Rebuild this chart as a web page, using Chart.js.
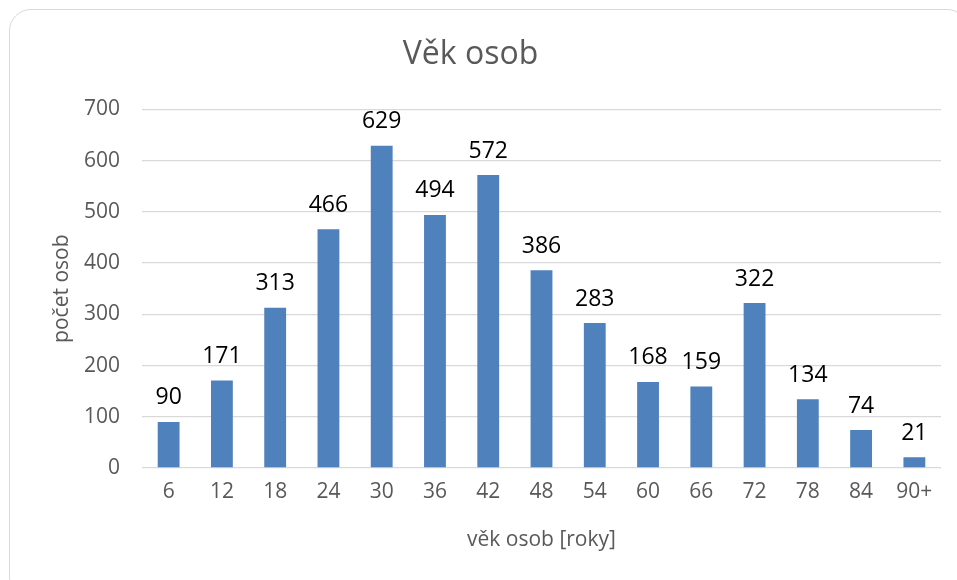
<!DOCTYPE html>
<html>
<head>
<meta charset="utf-8">
<script src="https://cdn.jsdelivr.net/npm/chart.js@4/dist/chart.umd.min.js"></script>
<style>
  html, body { margin: 0; padding: 0; background: #fff; overflow: hidden; }
  #wrap { position: relative; width: 957px; height: 580px; }
  #frame { position: absolute; left: 9px; top: 9px; width: 960px; height: 590px;
           border: 1.5px solid #d9d9d9; border-radius: 22px; box-sizing: border-box; }
  canvas { position: absolute; left: 0; top: 0; }
</style>
</head>
<body>
<div id="wrap">
  <div id="frame"></div>
  <canvas id="c" width="957" height="580"></canvas>
</div>
<script>
const categories = ["6", "12", "18", "24", "30", "36", "42", "48", "54", "60", "66", "72", "78", "84", "90+"];
const counts = [90, 171, 313, 466, 629, 494, 572, 386, 283, 168, 159, 322, 134, 74, 21];
const yTicks = [0, 100, 200, 300, 400, 500, 600, 700];
const chartTitle = "Věk osob";
const xTitle = "věk osob [roky]";
const yTitle = "počet osob";

const FONT = "'Open Sans', sans-serif";

const labelPlugin = {
  id: 'barLabels',
  afterDatasetsDraw(chart) {
    const ctx = chart.ctx;
    const meta = chart.getDatasetMeta(0);
    ctx.save();
    ctx.font = "23px " + FONT;
    ctx.fillStyle = "#000000";
    ctx.textAlign = "center";
    ctx.textBaseline = "middle";
    meta.data.forEach((bar, i) => {
      ctx.fillText(String(counts[i]), bar.x, bar.y - 24);
    });
    ctx.restore();
  }
};

new Chart(document.getElementById('c'), {
  type: 'bar',
  data: {
    labels: categories,
    datasets: [{
      data: counts,
      backgroundColor: '#4F81BD',
      borderWidth: 0,
      categoryPercentage: 1.0,
      barPercentage: 0.41
    }]
  },
  options: {
    responsive: false,
    animation: false,
    devicePixelRatio: 1,
    layout: { padding: { left: 0, right: 16, top: 0, bottom: 0 } },
    plugins: {
      legend: { display: false },
      tooltip: { enabled: false },
      title: {
        display: true,
        text: chartTitle,
        color: '#595959',
        font: { family: FONT, size: 32, weight: 'normal', lineHeight: 1.2 },
        padding: { top: 36, bottom: 35 }
      }
    },
    scales: {
      x: {
        grid: { display: false, drawTicks: false },
        border: { display: false },
        ticks: { color: '#595959', font: { family: FONT, size: 21 }, padding: 11, maxRotation: 0, autoSkip: false },
        title: { display: true, text: xTitle, color: '#595959',
                 font: { family: FONT, size: 21, lineHeight: 1.2 }, padding: { top: 0, bottom: 27 } },
        afterFit(scale) { scale.height = 112; }
      },
      y: {
        min: 0,
        max: 700,
        afterBuildTicks(scale) { scale.ticks = yTicks.map(v => ({ value: v })); },
        grid: { color: '#d9d9d9', lineWidth: 1.3, drawTicks: false },
        border: { display: false },
        ticks: { color: '#595959', font: { family: FONT, size: 21 }, padding: 22 },
        title: { display: true, text: yTitle, color: '#595959',
                 font: { family: FONT, size: 21, lineHeight: 1.2 }, padding: { top: 49, bottom: 0 } },
        afterFit(scale) { scale.width = 142; }
      }
    }
  },
  plugins: [labelPlugin]
});
</script>
</body>
</html>
